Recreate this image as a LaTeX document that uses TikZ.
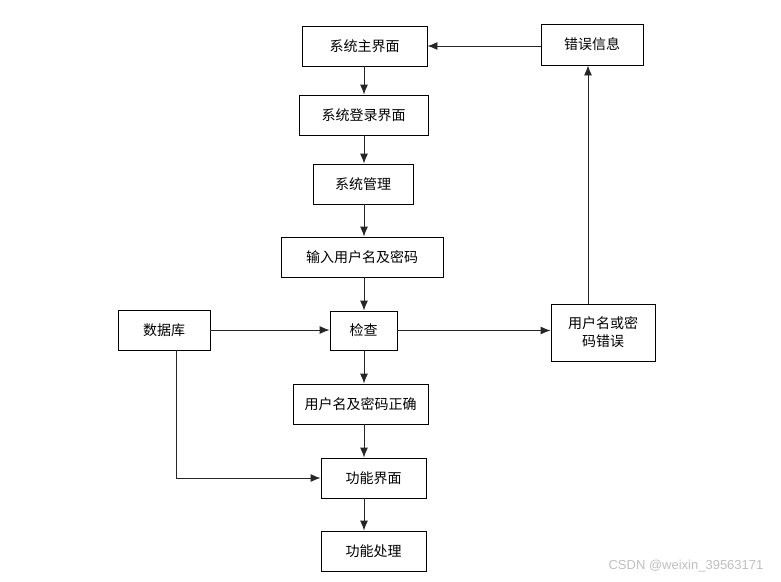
\documentclass[tikz,border=0pt]{standalone}
\usepackage{fontspec}
\setmainfont{Liberation Sans}
\newfontfamily\cjk{Noto Sans CJK SC}
\usetikzlibrary{arrows.meta}
\begin{document}
\begin{tikzpicture}[x=1pt,y=-1pt,
  box/.style={draw,line width=0.9pt,font=\cjk\fontsize{14}{18}\selectfont,
    inner sep=0pt,minimum height=40pt,align=center},
  arr/.style={-{Latex[length=10pt,width=8pt]},line width=0.9pt,draw=black!85}]
  \useasboundingbox (0,0) rectangle (781,581);
  \node[box,minimum width=125pt] (main) at (364.5,46) {系统主界面};
  \node[box,minimum width=102pt,minimum height=41pt] (err) at (592,44.5) {错误信息};
  \node[box,minimum width=129pt] (login) at (363.5,115) {系统登录界面};
  \node[box,minimum width=100pt] (mgr) at (363,184) {系统管理};
  \node[box,minimum width=162pt] (input) at (362,257) {输入用户名及密码};
  \node[box,minimum width=92pt] (db) at (164,330) {数据库};
  \node[box,minimum width=67pt,minimum height=39pt] (chk) at (363.5,330.5) {检查};
  \node[box,minimum width=104pt,minimum height=57pt] (wrong) at (603,332.5) {用户名或密\\码错误};
  \node[box,minimum width=135pt] (ok) at (360.5,404) {用户名及密码正确};
  \node[box,minimum width=105pt] (func) at (373.5,478) {功能界面};
  \node[box,minimum width=105pt] (proc) at (373.5,551) {功能处理};
  \node[font=\fontsize{13}{15}\selectfont,text=black!25] (mark) at (686,566) {CSDN @weixin\_39563171};
  \coordinate (up) at (588,0);
  \coordinate (dn) at (176,0);
  \coordinate (mid) at (364,0);
  \draw[arr] (err.west |- main.east) -- (main.east);
  \draw[arr] (mid |- main.south) -- (mid |- login.north);
  \draw[arr] (mid |- login.south) -- (mid |- mgr.north);
  \draw[arr] (mid |- mgr.south) -- (mid |- input.north);
  \draw[arr] (mid |- input.south) -- (mid |- chk.north);
  \draw[arr] (db.east) -- (chk.west |- db.east);
  \draw[arr] (chk.east) -- (wrong.west |- chk.east);
  \draw[arr] (up |- wrong.north) -- (up |- err.south);
  \draw[arr] (mid |- chk.south) -- (mid |- ok.north);
  \draw[arr] (mid |- ok.south) -- (mid |- func.north);
  \draw[arr] (dn |- db.south) |- (func.west);
  \draw[arr] (mid |- func.south) -- (mid |- proc.north);
\end{tikzpicture}
\end{document}
